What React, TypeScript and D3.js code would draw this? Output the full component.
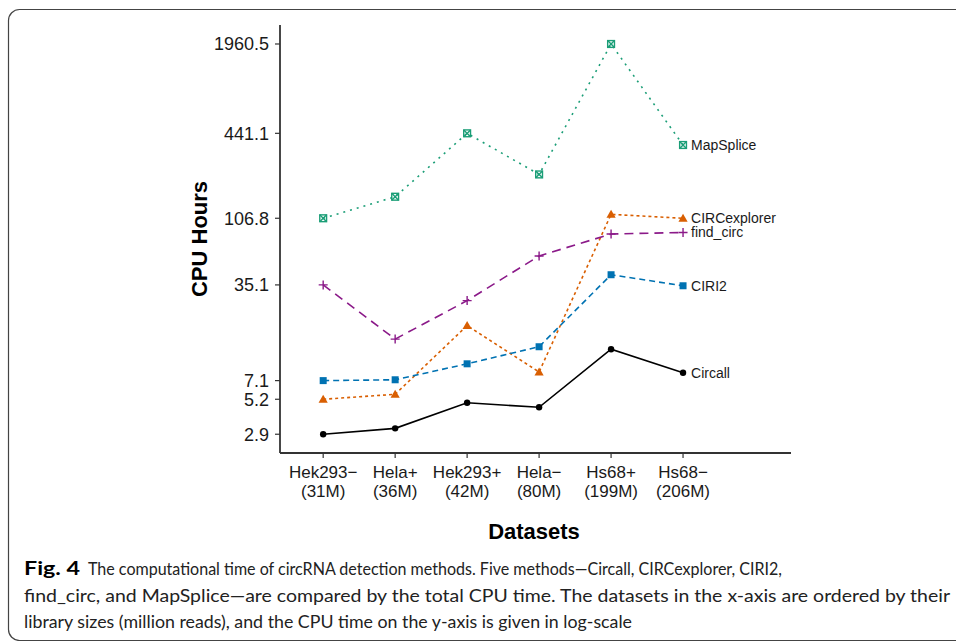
import React from "react";
import * as d3 from "d3";

// datasets on the x axis (name + library size)
const datasetNames = ["Hek293−", "Hela+", "Hek293+", "Hela−", "Hs68+", "Hs68−"];
const datasetSizes = ["(31M)", "(36M)", "(42M)", "(80M)", "(199M)", "(206M)"];

// CPU hours per method
const circall = [2.9, 3.2, 4.9, 4.55, 12.0, 8.1];
const circExplorer = [5.2, 5.65, 17.8, 8.2, 114, 106.8];
const ciri2 = [7.1, 7.2, 9.4, 12.5, 41.6, 34.6];
const findCirc = [35.1, 14.2, 27.0, 56.9, 82.1, 84.2];
const mapSplice = [106.8, 153, 441.1, 222, 1960.5, 363];

const yTicks = [2.9, 5.2, 7.1, 35.1, 106.8, 441.1, 1960.5];

const captionLines = [
  "The computational time of circRNA detection methods. Five methods—Circall, CIRCexplorer, CIRI2,",
  "find_circ, and MapSplice—are compared by the total CPU time. The datasets in the x-axis are ordered by their",
  "library sizes (million reads), and the CPU time on the y-axis is given in log-scale",
];

const series = [
  { name: "Circall", values: circall, color: "#000000", dash: null, shape: "circle" },
  { name: "CIRCexplorer", values: circExplorer, color: "#D95F02", dash: "3,3", shape: "triangle" },
  { name: "CIRI2", values: ciri2, color: "#0072B2", dash: "6,4", shape: "square" },
  { name: "find_circ", values: findCirc, color: "#8B1A89", dash: "9,6", shape: "plus" },
  { name: "MapSplice", values: mapSplice, color: "#1B9E77", dash: "2,5", shape: "squarecross" },
];

const W = 956;
const H = 641;
const left = 280;
const right = 791;
const top = 25;
const bottom = 453;

function Marker({ shape, x, y, color }: { shape: string; x: number; y: number; color: string }) {
  if (shape === "circle") return <circle cx={x} cy={y} r={3.2} fill={color} />;
  if (shape === "triangle") {
    const s = 4.6;
    return <path d={`M${x},${y - s}L${x + s},${y + s * 0.75}L${x - s},${y + s * 0.75}Z`} fill={color} />;
  }
  if (shape === "square") return <rect x={x - 3.5} y={y - 3.5} width={7} height={7} fill={color} />;
  if (shape === "plus")
    return (
      <path d={`M${x - 4.5},${y}H${x + 4.5}M${x},${y - 4.5}V${y + 4.5}`} stroke={color} strokeWidth={1.4} />
    );
  // square with a cross inside
  return (
    <g stroke={color} strokeWidth={1.4} fill="none">
      <rect x={x - 3.4} y={y - 3.4} width={6.8} height={6.8} />
      <path d={`M${x - 3.4},${y - 3.4}L${x + 3.4},${y + 3.4}M${x + 3.4},${y - 3.4}L${x - 3.4},${y + 3.4}`} />
    </g>
  );
}

export default function App() {
  const x = d3.scaleLinear().domain([0.4, 7.5]).range([left, right]);
  const y = d3.scaleLog().domain([2.12, 2692]).range([bottom, top]);
  const line = d3
    .line<number>()
    .x((d, i) => x(i + 1))
    .y((d) => y(d));

  const axisColor = "#333333";
  const font = "'Liberation Sans', Arial, sans-serif";
  const capFont = "Lato, 'Open Sans', sans-serif";

  return (
    <svg
      width={W}
      height={H}
      style={{ position: "absolute", left: 0, top: 0, background: "#fff" }}
    >
      {/* figure frame */}
      <rect x={8.5} y={9.5} width={1000} height={631} rx={11} fill="none" stroke="#444" strokeWidth={1.2} />

      {/* y axis */}
      <line x1={left} x2={left} y1={top} y2={bottom} stroke={axisColor} strokeWidth={1.8} />
      {yTicks.map((t) => (
        <g key={t}>
          <line x1={left - 5} x2={left} y1={y(t)} y2={y(t)} stroke={axisColor} strokeWidth={1.2} />
          <text x={left - 11} y={y(t)} dy="0.35em" textAnchor="end" fontFamily={font} fontSize={18} fill="#1a1a1a">
            {t}
          </text>
        </g>
      ))}

      {/* x axis */}
      <line x1={left} x2={right} y1={bottom} y2={bottom} stroke={axisColor} strokeWidth={1.8} />
      {datasetNames.map((n, i) => (
        <g key={n}>
          <line x1={x(i + 1)} x2={x(i + 1)} y1={bottom} y2={bottom + 5} stroke={axisColor} strokeWidth={1.2} />
          <text x={x(i + 1)} y={478} textAnchor="middle" fontFamily={font} fontSize={17} fill="#1a1a1a">
            {n}
          </text>
          <text x={x(i + 1)} y={497} textAnchor="middle" fontFamily={font} fontSize={17} fill="#1a1a1a">
            {datasetSizes[i]}
          </text>
        </g>
      ))}

      {/* axis titles */}
      <text x={534} y={539} textAnchor="middle" fontFamily={font} fontWeight="bold" fontSize={22}>
        Datasets
      </text>
      <text
        transform={`translate(207,${(top + bottom) / 2}) rotate(-90)`}
        textAnchor="middle"
        fontFamily={font}
        fontWeight="bold"
        fontSize={22}
      >
        CPU Hours
      </text>

      {/* series */}
      {series.map((s) => (
        <g key={s.name}>
          <path
            d={line(s.values) || ""}
            fill="none"
            stroke={s.color}
            strokeWidth={1.6}
            strokeDasharray={s.dash || undefined}
          />
          {s.values.map((v, i) => (
            <Marker key={i} shape={s.shape} x={x(i + 1)} y={y(v)} color={s.color} />
          ))}
          <text
            x={x(6) + 8}
            y={y(s.values[5])}
            dy="0.35em"
            fontFamily={font}
            fontSize={14}
            fill="#1a1a1a"
          >
            {s.name}
          </text>
        </g>
      ))}

      {/* caption */}
      <text x={24} y={575} fontFamily={capFont} fontWeight="bold" fontSize={18} textLength={56} lengthAdjust="spacingAndGlyphs">
        Fig. 4
      </text>
      <text x={88} y={575} fontFamily={capFont} fontSize={18} fill="#222" textLength={694} lengthAdjust="spacingAndGlyphs">
        {captionLines[0]}
      </text>
      <text x={24} y={602} fontFamily={capFont} fontSize={18} fill="#222" textLength={926} lengthAdjust="spacingAndGlyphs">
        {captionLines[1]}
      </text>
      <text x={24} y={628} fontFamily={capFont} fontSize={18} fill="#222" textLength={608} lengthAdjust="spacingAndGlyphs">
        {captionLines[2]}
      </text>
    </svg>
  );
}
